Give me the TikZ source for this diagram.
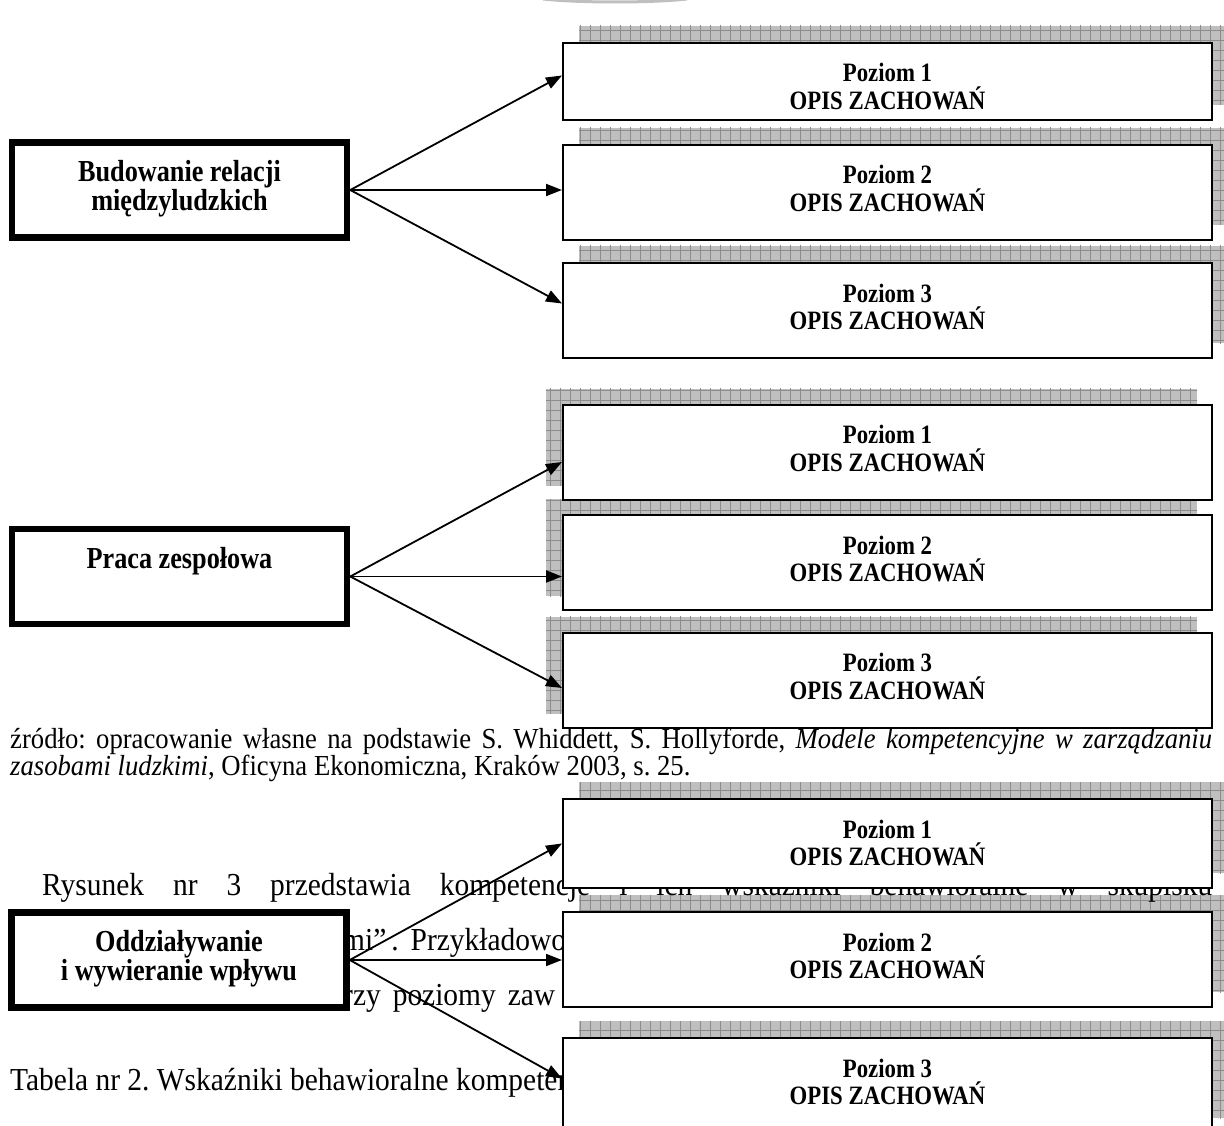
\documentclass[tikz,border=0pt]{standalone}
\usepackage{fontspec}
\setmainfont{Liberation Serif}
\newfontfamily\scanfont{Liberation Serif}[FakeStretch=0.86]
\newfontfamily\scanbody{Liberation Serif}[FakeStretch=0.92]
\usepackage{tikz}
\usetikzlibrary{arrows.meta, positioning, backgrounds}
\newcommand{\lblfont}{\scanfont\fontsize{26.5}{27.5}\selectfont\bfseries}
\newcommand{\complblfont}{\scanfont\fontsize{30.5}{29}\selectfont\bfseries}
\newcommand{\bodyfont}{\scanbody\fontsize{32}{35}\selectfont\frenchspacing}
\newcommand{\srcfont}{\scanbody\fontsize{29}{27}\selectfont\frenchspacing}
% text sits at the top of the box, as in the scan
\newcommand{\toptext}[2]{\parbox[c][#1][t]{320pt}{\centering\rule{0pt}{39pt}#2}}
% grey squared shadow behind a box, shifted by (#2,#3)
\newcommand{\gridshadow}[3]{%
  \begin{scope}
    \clip ([shift={(#2,#3)}]#1.south west) rectangle ([shift={(#2,#3)}]#1.north east);
    \fill[black!25] ([shift={(#2,#3)}]#1.south west) rectangle ([shift={(#2,#3)}]#1.north east);
    \draw[black!45, line width=0.8pt, step=10pt]
      ([shift={(#2-20,#3+20)}]#1.south west) grid ([shift={(#2+20,#3-20)}]#1.north east);
  \end{scope}}

\begin{document}
\begin{tikzpicture}[x=1pt, y=-1pt,
  comp/.style={draw, line width=6.5pt, fill=white, minimum width=335,
    minimum height=95, inner sep=0pt, font=\complblfont, align=center},
  lvl/.style={draw, line width=2pt, fill=white, minimum width=649,
    minimum height=95, inner sep=0pt, font=\lblfont, align=center},
  arr/.style={-{Triangle[length=16pt, width=12pt]}, line width=1.8pt},
  body/.style={inner sep=0pt, font=\bodyfont},
  src/.style={inner sep=0pt, font=\srcfont}
]
  \useasboundingbox (0, 0) rectangle (1224, 1126);

  % Text of the page behind the boxes
  \node[src, anchor=base west] (src1) at (10, 748)
    {\makebox[1202pt][s]{źródło: opracowanie własne na podstawie S. Whiddett, S. Hollyforde, \textit{Modele kompetencyjne w zarządzaniu}}};
  \node[src, anchor=base west] (src2) at (10, 775)
    {\textit{zasobami ludzkimi}, Oficyna Ekonomiczna, Kraków 2003, s. 25.};
  \node[body, anchor=base west] (rys) at (42, 895)
    {\makebox[1170pt][s]{Rysunek nr 3 przedstawia kompetencje i ich wskaźniki behawioralne w skupisku}};
  \node[body, anchor=base west] (przyk) at (342, 950)
    {mi”\hspace{5pt}.\hspace{12pt}Przykładowo};
  \node[body, anchor=base west] (trzy) at (343, 1005)
    {rzy\hspace{12pt}poziomy\hspace{12pt}zaw};
  \node[body, anchor=base west] (tab) at (10, 1090)
    {Tabela nr 2. Wskaźniki behawioralne kompeten};

  % Budowanie relacji
  \node[comp] (bud) at (179.5, 190)
    {\toptext{95pt}{Budowanie relacji\\międzyludzkich}};
  \node[lvl, minimum height=77] (bud1) at (887.5, 81.5)
    {\toptext{77pt}{Poziom 1\\OPIS ZACHOWAŃ}};
  \node[lvl] (bud2) at (887.5, 192.5) {\toptext{95pt}{Poziom 2\\OPIS ZACHOWAŃ}};
  \node[lvl] (bud3) at (887.5, 310.5) {\toptext{95pt}{Poziom 3\\OPIS ZACHOWAŃ}};

  % Praca zespolowa
  \node[comp] (pz) at (179.5, 576.5) {\toptext{95pt}{Praca zespołowa}};
  \node[lvl] (pz1) at (887.5, 452) {\toptext{95pt}{Poziom 1\\OPIS ZACHOWAŃ}};
  \node[lvl] (pz2) at (887.5, 562.5) {\toptext{95pt}{Poziom 2\\OPIS ZACHOWAŃ}};
  \node[lvl] (pz3) at (887.5, 680) {\toptext{95pt}{Poziom 3\\OPIS ZACHOWAŃ}};

  % Oddzialywanie
  \node[comp] (odd) at (179, 960)
    {\toptext{95pt}{Oddziaływanie\\i wywieranie wpływu}};
  \node[lvl, minimum height=89] (odd1) at (887.5, 843.5)
    {\toptext{89pt}{Poziom 1\\OPIS ZACHOWAŃ}};
  \node[lvl] (odd2) at (887.5, 959.5) {\toptext{95pt}{Poziom 2\\OPIS ZACHOWAŃ}};
  \node[lvl] (odd3) at (887.5, 1085.5) {\toptext{95pt}{Poziom 3\\OPIS ZACHOWAŃ}};

  % Shadows
  \begin{scope}[on background layer]
    \draw[black!25, line width=3pt] (543, -1) .. controls (580, 3) and (650, 3) .. (687, -1);
    \gridshadow{bud1}{17}{-16}
    \gridshadow{bud2}{17}{-16}
    \gridshadow{bud3}{17}{-16}
    \gridshadow{pz1}{-16}{-15}
    \gridshadow{pz2}{-16}{-15}
    \gridshadow{pz3}{-16}{-15}
    \gridshadow{odd1}{17}{-16}
    \gridshadow{odd2}{17}{-16}
    \gridshadow{odd3}{17}{-16}
  \end{scope}

  % Arrows
  \draw[arr] (bud.east) -- ([yshift=6pt]bud1.west);
  \draw[arr] (bud.east) -- (bud.east -| bud2.west);
  \draw[arr] (bud.east) -- ([yshift=7pt]bud3.west);
  \draw[arr] (pz.east) -- ([yshift=-10pt]pz1.west);
  \draw[arr] (pz.east) -- (pz.east -| pz2.west);
  \draw[arr] (pz.east) -- ([yshift=-8pt]pz3.west);
  \draw[arr] (odd.east) -- (odd1.west);
  \draw[arr] (odd.east) -- (odd.east -| odd2.west);
  \draw[arr] (odd.east) -- ([yshift=7pt]odd3.west);
\end{tikzpicture}
\end{document}
